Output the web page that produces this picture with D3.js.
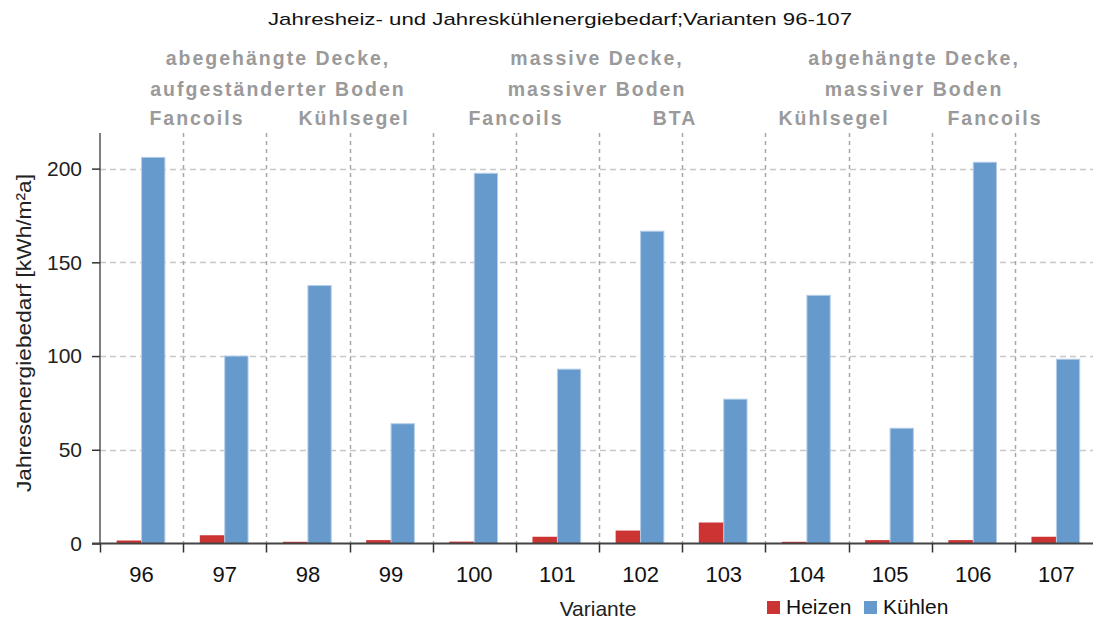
<!DOCTYPE html>
<html>
<head>
<meta charset="utf-8">
<script src="https://cdn.jsdelivr.net/npm/d3@7"></script>
<style>
  body { margin: 0; background: #fff; }
  svg { display: block; font-family: "Liberation Sans", Arial, sans-serif; }
</style>
</head>
<body>
<svg id="chart"></svg>
<script>
// data
const varianten = ['96', '97', '98', '99', '100', '101', '102', '103', '104', '105', '106', '107'];
const heizen = [1.6, 4.4, 0.9, 1.8, 1.0, 3.6, 6.9, 11.2, 0.9, 1.8, 1.8, 3.6];
const kuehlen = [206, 100, 137.6, 63.9, 197.5, 93, 166.6, 77, 132.4, 61.5, 203.4, 98.3];
const yTicks = [0, 50, 100, 150, 200];
const serien = ['Heizen', 'Kühlen'];

// header texts above the plot
const titel = 'Jahresheiz- und Jahreskühlenergiebedarf;Varianten 96-107';
const gruppen = [
  ['abegehängte Decke,', 'aufgeständerter Boden'],
  ['massive Decke,', 'massiver Boden'],
  ['abgehängte Decke,', 'massiver Boden']
];
const systeme = ['Fancoils', 'Kühlsegel', 'Fancoils', 'BTA', 'Kühlsegel', 'Fancoils'];

// set up svg
const width = 1093;
const height = 623;
const margin = { top: 133, right: -5, bottom: 80, left: 100 };

const svg = d3.select('#chart')
  .attr('width', width)
  .attr('height', height);

const colors = { Heizen: '#cc3333', Kühlen: '#6699cc' };

// scales
const x = d3.scaleBand()
  .domain(varianten)
  .range([margin.left, width - margin.right])
  .padding(0);

const y = d3.scaleLinear()
  .domain([0, 219])
  .range([543.5, margin.top]);

// horizontal grid
svg.append('g')
  .selectAll('line')
  .data(yTicks.filter(d => d > 0))
  .join('line')
    .attr('x1', margin.left)
    .attr('x2', width)
    .attr('y1', d => Math.round(y(d)) + 0.5)
    .attr('y2', d => Math.round(y(d)) + 0.5)
    .style('stroke', '#c8c8c8')
    .style('stroke-width', 1.5)
    .style('stroke-dasharray', '6,4');

// vertical grid between varianten
svg.append('g')
  .selectAll('line')
  .data(varianten.slice(1))
  .join('line')
    .attr('x1', d => Math.round(x(d)) + 0.5)
    .attr('x2', d => Math.round(x(d)) + 0.5)
    .attr('y1', margin.top)
    .attr('y2', y(0))
    .style('stroke', '#a6a6a6')
    .style('stroke-width', 1.5)
    .style('stroke-dasharray', '4,4');

// bars
const bw = x.bandwidth();

svg.append('g')
  .selectAll('rect')
  .data(heizen)
  .join('rect')
    .attr('x', (d, i) => x(varianten[i]) + bw * 0.2)
    .attr('y', d => y(d))
    .attr('width', bw * 0.3)
    .attr('height', d => y(0) - y(d))
    .style('fill', colors.Heizen);

svg.append('g')
  .selectAll('rect')
  .data(kuehlen)
  .join('rect')
    .attr('x', (d, i) => x(varianten[i]) + bw * 0.5)
    .attr('y', d => y(d))
    .attr('width', bw * 0.28)
    .attr('height', d => y(0) - y(d))
    .style('fill', colors.Kühlen)
    .style('stroke', '#b5cde8')
    .style('stroke-width', 1);

// y axis
const yAxis = svg.append('g')
  .attr('transform', `translate(${margin.left},0)`)
  .call(d3.axisLeft(y).tickValues(yTicks).tickSize(8).tickPadding(10));

yAxis.select('.domain')
  .attr('d', `M0,${margin.top}V${y(0)}`)
  .style('stroke', '#555')
  .style('stroke-width', 1.5);
yAxis.selectAll('.tick line').style('stroke', '#333').style('stroke-width', 1.5);
yAxis.selectAll('.tick text')
  .style('font-size', '21px')
  .style('fill', '#222')
  .style('font-family', '"Liberation Sans", Arial, sans-serif');

// x axis, ticks sit on the borders between categories
const xAxis = svg.append('g')
  .attr('transform', `translate(0,${y(0)})`);

xAxis.append('line')
  .attr('x1', margin.left - 8)
  .attr('x2', width)
  .attr('y1', 0)
  .attr('y2', 0)
  .style('stroke', '#444')
  .style('stroke-width', 2);

xAxis.selectAll('.tk')
  .data(varianten)
  .join('line')
    .attr('class', 'tk')
    .attr('x1', d => Math.round(x(d)) + 0.5)
    .attr('x2', d => Math.round(x(d)) + 0.5)
    .attr('y1', 0)
    .attr('y2', 9)
    .style('stroke', '#333')
    .style('stroke-width', 1.5);

xAxis.selectAll('.lbl')
  .data(varianten)
  .join('text')
    .attr('class', 'lbl')
    .attr('x', d => x(d) + bw / 2)
    .attr('y', 38)
    .attr('text-anchor', 'middle')
    .style('font-size', '22px')
    .style('fill', '#111')
    .text(d => d);

// axis titles
svg.append('text')
  .attr('transform', 'translate(31,333) rotate(-90)')
  .attr('text-anchor', 'middle')
  .attr('textLength', 318)
  .attr('lengthAdjust', 'spacingAndGlyphs')
  .style('font-size', '20px')
  .style('fill', '#222')
  .text('Jahresenergiebedarf [kWh/m²a]');

svg.append('text')
  .attr('x', 598)
  .attr('y', 616)
  .attr('text-anchor', 'middle')
  .style('font-size', '21px')
  .style('fill', '#222')
  .text('Variante');

// chart title
svg.append('text')
  .attr('x', 560)
  .attr('y', 25)
  .attr('text-anchor', 'middle')
  .attr('textLength', 584)
  .attr('lengthAdjust', 'spacingAndGlyphs')
  .style('font-size', '17px')
  .style('fill', '#111')
  .text(titel);

// group headers (gray, bold)
const gruppenX = [278, 597, 914];
const zeilenY = [65, 96];
gruppen.forEach((lines, i) => {
  lines.forEach((t, j) => {
    svg.append('text')
      .attr('x', gruppenX[i])
      .attr('y', zeilenY[j])
      .attr('text-anchor', 'middle')
      .style('font-size', '19.5px')
      .style('font-weight', 'bold')
      .style('letter-spacing', '2px')
      .style('fill', '#9a9a9a')
      .text(t);
  });
});

const systemeX = [197, 354, 516, 675, 834, 995];
svg.selectAll('.sys')
  .data(systeme)
  .join('text')
    .attr('class', 'sys')
    .attr('x', (d, i) => systemeX[i])
    .attr('y', 125)
    .attr('text-anchor', 'middle')
    .style('font-size', '19.5px')
    .style('font-weight', 'bold')
    .style('letter-spacing', '2px')
    .style('fill', '#9a9a9a')
    .text(d => d);

// legend
const legendX = [767, 864];
const legend = svg.append('g');
serien.forEach((s, i) => {
  legend.append('rect')
    .attr('x', legendX[i])
    .attr('y', 601)
    .attr('width', 13)
    .attr('height', 13)
    .style('fill', colors[s]);
  legend.append('text')
    .attr('x', legendX[i] + 19)
    .attr('y', 614)
    .style('font-size', '21px')
    .style('fill', '#111')
    .text(s);
});
</script>
</body>
</html>
